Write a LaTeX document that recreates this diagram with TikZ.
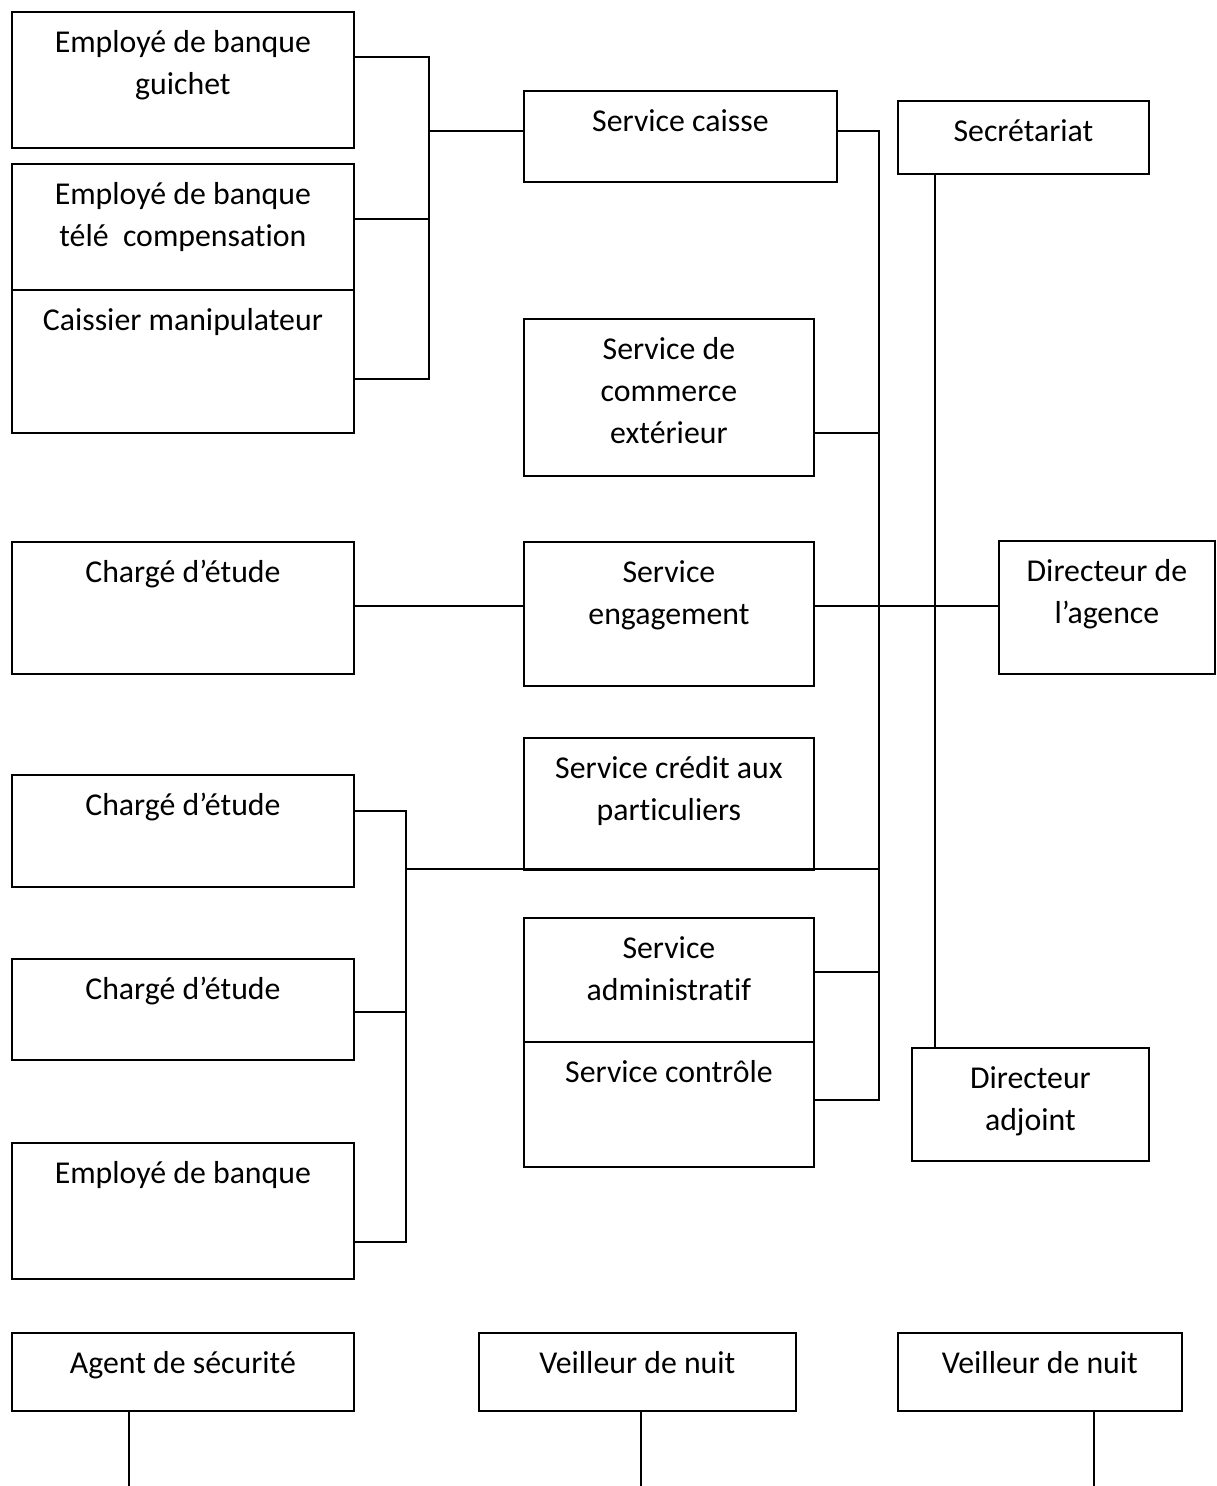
\documentclass[tikz,border=0pt]{standalone}
\usepackage{fontspec}
\setmainfont{Carlito}[Ligatures=NoCommon]
\tikzset{
  box/.style={draw, line width=1.8pt, inner sep=0pt, anchor=north west},
  txt/.style={inner sep=0pt, anchor=north,
    font=\fontsize{31.8pt}{42pt}\selectfont},
  link/.style={line width=1.5pt},
}
\newcommand\orgbx[6]{%
  \node[box, minimum width=#4pt, minimum height=#5pt] (#1) at (#2pt,-#3pt) {};
  \node[txt] (#1-t) at ([yshift=-11.6pt]#1.north) {\parbox[t]{#4pt}{\centering\strut #6}};}
\begin{document}
\begin{tikzpicture}
\useasboundingbox (0,0) rectangle (1216pt,-1486pt);
% boxes
\orgbx{b1}{11}{11}{342}{136}{Employé de banque\\guichet}
\orgbx{b2}{11}{163}{342}{126}{Employé de banque\\télé~ compensation}
\orgbx{b3}{11}{289}{342}{143}{Caissier manipulateur}
\orgbx{caisse}{523}{90}{313}{91}{Service caisse}
\orgbx{secr}{897}{100}{251}{73}{Secrétariat}
\orgbx{commerce}{523}{318}{290}{157}{Service de\\commerce\\extérieur}
\orgbx{ce1}{11}{541}{342}{132}{Chargé d’étude}
\orgbx{eng}{523}{541}{290}{144}{Service\\engagement}
\orgbx{dir}{998}{540}{216}{133}{Directeur de\\l’agence}
\orgbx{credit}{523}{737}{290}{132}{Service crédit aux\\particuliers}
\orgbx{ce2}{11}{774}{342}{112}{Chargé d’étude}
\orgbx{ce3}{11}{958}{342}{101}{Chargé d’étude}
\orgbx{admin}{523}{917}{290}{124}{Service\\administratif}
\orgbx{ctrl}{523}{1041}{290}{125}{Service contrôle}
\orgbx{emp}{11}{1142}{342}{136}{Employé de banque}
\orgbx{adj}{911}{1047}{237}{113}{Directeur\\adjoint}
\orgbx{agent}{11}{1332}{342}{78}{Agent de sécurité}
\orgbx{v1}{478}{1332}{317}{78}{Veilleur de nuit}
\orgbx{v2}{897}{1332}{284}{78}{Veilleur de nuit}
% junction coordinates
\coordinate (busLtop) at (429pt,-57pt);
\coordinate (busLmid) at (429pt,-219pt);
\coordinate (busLbot) at (429pt,-379pt);
\coordinate (busLc) at (429pt,-131pt);
\coordinate (busRtop) at (879pt,-131pt);
\coordinate (busRcom) at (879pt,-433pt);
\coordinate (busRcr) at (879pt,-869pt);
\coordinate (busRadm) at (879pt,-972pt);
\coordinate (busRbot) at (879pt,-1100pt);
\coordinate (rowE) at (700pt,-606pt);
\coordinate (busMtop) at (406pt,-811pt);
\coordinate (busMcr) at (406pt,-869pt);
\coordinate (busMmid) at (406pt,-1012pt);
\coordinate (busMbot) at (406pt,-1242pt);
\coordinate (secX) at (935pt,0pt);
\coordinate (agentEnd) at (129pt,-1486pt);
\coordinate (v1End) at (641pt,-1486pt);
\coordinate (v2End) at (1094pt,-1486pt);
% connectors
\draw[link] (b1.east |- busLtop) -- (busLtop) -- (busLbot) -- (b3.east |- busLbot);
\draw[link] (b2.east |- busLmid) -- (busLmid);
\draw[link] (busLc) -- (caisse.west |- busLc);
\draw[link] (caisse.east |- busRtop) -- (busRtop) -- (busRbot) -- (ctrl.east |- busRbot);
\draw[link] (commerce.east |- busRcom) -- (busRcom);
\draw[link] (admin.east |- busRadm) -- (busRadm);
\draw[link] (ce1.east |- rowE) -- (eng.west |- rowE);
\draw[link] (eng.east |- rowE) -- (dir.west |- rowE);
\draw[link] (busMcr) -- (busRcr);
\draw[link] (ce2.east |- busMtop) -- (busMtop) -- (busMbot) -- (emp.east |- busMbot);
\draw[link] (ce3.east |- busMmid) -- (busMmid);
\draw[link] (secr.south -| secX) -- (adj.north -| secX);
\draw[link] (agent.south -| agentEnd) -- (agentEnd);
\draw[link] (v1.south -| v1End) -- (v1End);
\draw[link] (v2.south -| v2End) -- (v2End);
\end{tikzpicture}
\end{document}
